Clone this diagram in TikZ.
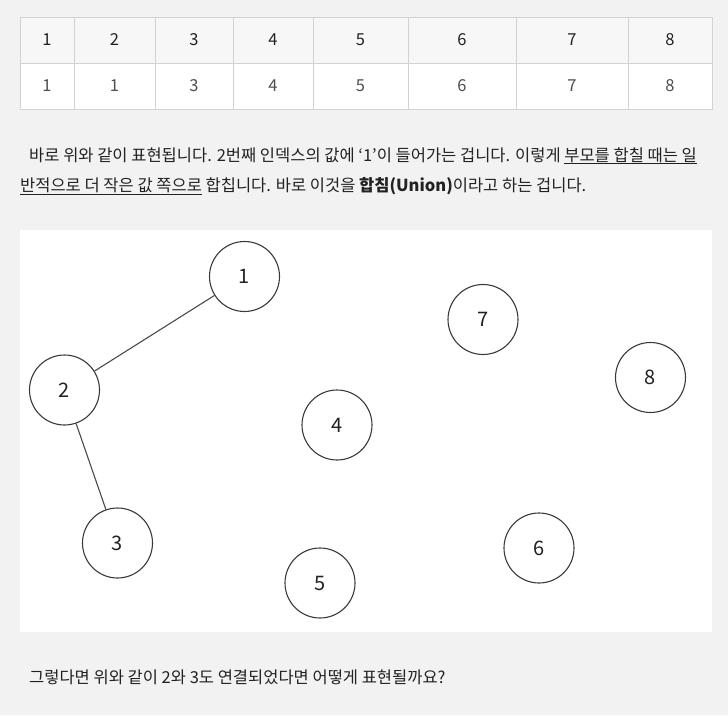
\documentclass[tikz,border=0pt]{standalone}
\usepackage{fontspec}
\setmainfont{Noto Sans CJK KR}
\begin{document}
\begin{tikzpicture}[x=1pt,y=-1pt,
  cell/.style={inner sep=0pt,text=txt,font=\fontsize{16.5}{19}\selectfont},
  vert/.style={circle,draw=ring,line width=1.1pt,minimum size=70pt,inner sep=0pt,fill=white,text=txt,font=\fontsize{20}{22}\selectfont},
  edge/.style={draw=edgec,line width=1.1pt},
  para/.style={inner sep=0pt,anchor=base west,text=txt,font=\fontsize{16.5}{19}\selectfont}]
\definecolor{bg}{HTML}{F2F2F2}
\definecolor{txt}{HTML}{222222}
\definecolor{ring}{HTML}{3A3A3A}
\definecolor{edgec}{HTML}{4A4A4A}
\definecolor{grid}{HTML}{D2D2D2}
\definecolor{head}{HTML}{F7F7F7}
\fill[bg] (0,0) rectangle (728,715);
\useasboundingbox (0,0) rectangle (728,715);
% table
\fill[head] (20,17) rectangle (712,63);
\fill[white] (20,63) rectangle (712,109);
\draw[grid,line width=0.8pt] (20,17) rectangle (712,109);
\draw[grid,line width=0.8pt] (20,63) -- (712,63);
\foreach \x in {74,155,233,313,408,516,628} \draw[grid,line width=0.8pt] (\x,17) -- (\x,109);
\node[cell] (h1) at (47,40) {1};
\node[cell] (h2) at (114.5,40) {2};
\node[cell] (h3) at (194,40) {3};
\node[cell] (h4) at (273,40) {4};
\node[cell] (h5) at (360.5,40) {5};
\node[cell] (h6) at (462,40) {6};
\node[cell] (h7) at (572,40) {7};
\node[cell] (h8) at (670,40) {8};
\node[cell,text=txt!80] (v1) at (47,86) {1};
\node[cell,text=txt!80] (v2) at (114.5,86) {1};
\node[cell,text=txt!80] (v3) at (194,86) {3};
\node[cell,text=txt!80] (v4) at (273,86) {4};
\node[cell,text=txt!80] (v5) at (360.5,86) {5};
\node[cell,text=txt!80] (v6) at (462,86) {6};
\node[cell,text=txt!80] (v7) at (572,86) {7};
\node[cell,text=txt!80] (v8) at (670,86) {8};
% paragraph
\node[para] (p1) at (29,161) {바로 위와 같이 표현됩니다. 2번째 인덱스의 값에 ‘1’이 들어가는 겁니다. 이렇게 \underline{부모를 합칠 때는 일}};
\node[para] (p2) at (20,191) {\underline{반적으로 더 작은 값 쪽으로} 합칩니다. 바로 이것을 \textbf{합침(Union)}이라고 하는 겁니다.};
% graph panel
\fill[white] (20,230) rectangle (712,632);
\node[vert] (c1) at (244.5,276.5) {1};
\node[vert] (c2) at (64.5,390) {2};
\node[vert] (c3) at (117.5,543) {3};
\node[vert] (c4) at (337,425) {4};
\node[vert] (c5) at (320,583) {5};
\node[vert] (c6) at (539,548) {6};
\node[vert] (c7) at (483,319.5) {7};
\node[vert] (c8) at (650.5,377.5) {8};
\draw[edge] (c1) -- (c2);
\draw[edge] (c2) -- (c3);
% bottom text
\node[para] (p3) at (29,683) {그렇다면 위와 같이 2와 3도 연결되었다면 어떻게 표현될까요?};
\end{tikzpicture}
\end{document}
